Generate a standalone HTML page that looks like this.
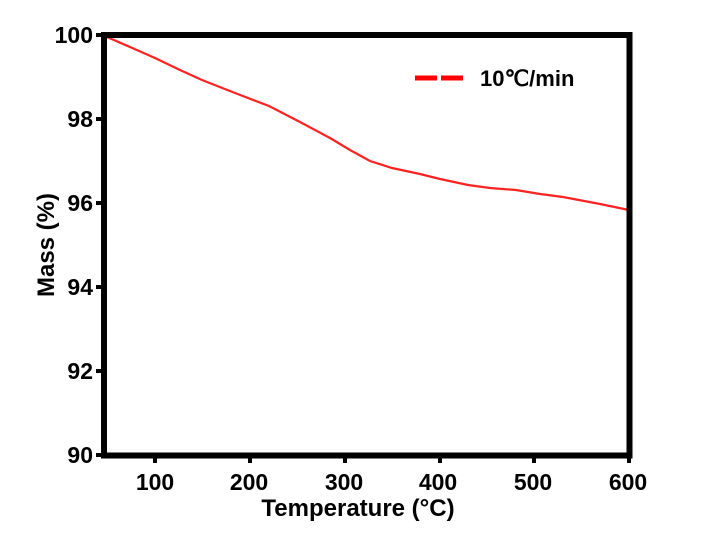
<!DOCTYPE html><html><head><style>body{margin:0;background:#fff}</style></head><body>
<svg width="704" height="537" xmlns="http://www.w3.org/2000/svg" font-family="Liberation Sans, sans-serif" font-weight="bold">
<polyline fill="none" stroke="#f22" stroke-width="2.2" points="107,37 130,47 155,58 180,70 202,80 235,93 269,106 300,122 330,138 350,150 370,161 392,168 420,174 440,179 468,185 490,188 516,190 540,194 563,197 600,204 629,210"/>
<rect x="104" y="35" width="525.5" height="420.5" fill="none" stroke="#000" stroke-width="6"/>
<g stroke="#000" stroke-width="4">
<line x1="155" y1="455" x2="155" y2="463"/><line x1="250" y1="455" x2="250" y2="463"/><line x1="345" y1="455" x2="345" y2="463"/><line x1="440" y1="455" x2="440" y2="463"/><line x1="534" y1="455" x2="534" y2="463"/><line x1="629" y1="455" x2="629" y2="463"/>
<line x1="96" y1="119" x2="104" y2="119"/><line x1="96" y1="203" x2="104" y2="203"/><line x1="96" y1="287" x2="104" y2="287"/><line x1="96" y1="371" x2="104" y2="371"/><line x1="96" y1="35" x2="104" y2="35"/><line x1="96" y1="455" x2="104" y2="455"/>
</g>
<g font-size="23" text-anchor="middle">
<text x="155" y="490">100</text><text x="249" y="490">200</text><text x="344" y="490">300</text><text x="438" y="490">400</text><text x="533" y="490">500</text><text x="628" y="490">600</text>
</g>
<g font-size="23" text-anchor="end">
<text x="93" y="43">100</text><text x="93" y="127">98</text><text x="93" y="211">96</text><text x="93" y="295">94</text><text x="93" y="379">92</text><text x="93" y="463">90</text>
</g>
<text x="358" y="516" font-size="24" text-anchor="middle">Temperature (°C)</text>
<text transform="translate(54,245) rotate(-90)" font-size="24" text-anchor="middle">Mass (%)</text>
<line x1="415" y1="78" x2="467" y2="78" stroke="#f00" stroke-width="5" stroke-dasharray="22,4"/>
<text x="480" y="86" font-size="22">10℃/min</text>
</svg></body></html>
